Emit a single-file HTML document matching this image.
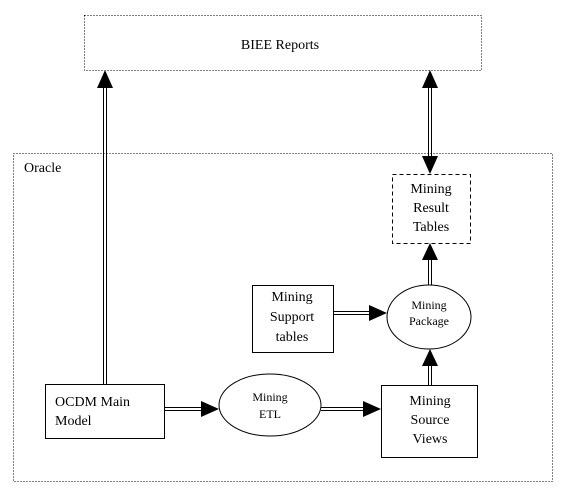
<!DOCTYPE html>
<html><head><style>
body{margin:0;background:#fff}
svg{display:block}
text{font-family:"Liberation Serif",serif;fill:#000}
</style></head><body>
<svg width="563" height="491" viewBox="0 0 563 491" xmlns="http://www.w3.org/2000/svg">
<rect x="84.5" y="15.5" width="397" height="55" fill="none" stroke="#000" stroke-dasharray="1,2"/>
<text x="280" y="49" font-size="14" text-anchor="middle">BIEE Reports</text>
<rect x="13.5" y="153.5" width="539" height="328" fill="none" stroke="#000" stroke-dasharray="1,2"/>
<text x="24" y="172" font-size="14">Oracle</text>

<rect x="392.5" y="174.5" width="78" height="69" fill="#fff" stroke="#000" stroke-dasharray="4,3"/>
<g font-size="14" text-anchor="middle"><text x="431" y="193">Mining</text><text x="431" y="212">Result</text><text x="431" y="231">Tables</text></g>

<rect x="252.5" y="285.5" width="81" height="67" fill="#fff" stroke="#000"/>
<g font-size="14" text-anchor="middle"><text x="292" y="301">Mining</text><text x="292" y="321">Support</text><text x="292" y="341">tables</text></g>

<ellipse cx="429" cy="317" rx="42" ry="32" fill="#fff" stroke="#000"/>
<g font-size="12" text-anchor="middle"><text x="429" y="309">Mining</text><text x="429" y="325">Package</text></g>

<rect x="45.5" y="384.5" width="119" height="54" fill="#fff" stroke="#000"/>
<g font-size="14"><text x="55" y="406">OCDM Main</text><text x="55" y="425">Model</text></g>

<ellipse cx="270" cy="405" rx="51" ry="31" fill="#fff" stroke="#000"/>
<g font-size="12" text-anchor="middle"><text x="270" y="401">Mining</text><text x="270" y="418">ETL</text></g>

<rect x="381.5" y="385.5" width="96" height="72" fill="#fff" stroke="#000"/>
<g font-size="14" text-anchor="middle"><text x="430" y="405">Mining</text><text x="430" y="424">Source</text><text x="430" y="443">Views</text></g>

<g stroke="#000" stroke-width="1" fill="none">
<path d="M103.5 384V86M106.5 384V86"/>
<path d="M428.5 86V158M431.5 86V158"/>
<path d="M428.5 285V258M431.5 285V258"/>
<path d="M428.5 385V364M431.5 385V364"/>
<path d="M333 311.5H370M333 314.5H370"/>
<path d="M164 407.5H202M164 410.5H202"/>
<path d="M321 407.5H364M321 410.5H364"/>
</g>
<g fill="#000">
<polygon points="105,70 97,88 113,88"/>
<polygon points="430,70 422,88 438,88"/>
<polygon points="430,174 422,156 438,156"/>
<polygon points="430,243 422,260 438,260"/>
<polygon points="430,349 422,366 438,366"/>
<polygon points="387,313 369,305 369,321"/>
<polygon points="219,409 201,401 201,417"/>
<polygon points="381,409 363,401 363,417"/>
</g>
</svg>
</body></html>
